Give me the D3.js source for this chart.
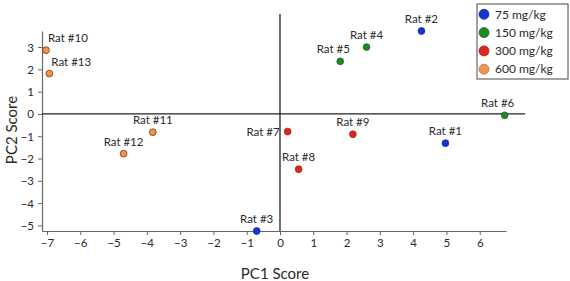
<!DOCTYPE html>
<html>
<head>
<meta charset="utf-8">
<script src="https://cdn.jsdelivr.net/npm/d3@7"></script>
<style>
    body { margin: 0; background: #fff; }
    svg { font-family: Lato, "Open Sans", sans-serif; }
</style>
</head>
<body>
<div id="container"></div>
<script>
const rats = ['Rat #1', 'Rat #2', 'Rat #3', 'Rat #4', 'Rat #5', 'Rat #6', 'Rat #7',
    'Rat #8', 'Rat #9', 'Rat #10', 'Rat #11', 'Rat #12', 'Rat #13'];
const pc1 = [4.97, 4.25, -0.7, 2.6, 1.81, 6.75, 0.23, 0.56, 2.19, -7.03, -3.82, -4.7, -6.93];
const pc2 = [-1.31, 3.72, -5.25, 3.0, 2.36, -0.06, -0.79, -2.48, -0.91, 2.86, -0.82, -1.78, 1.81];
const ratDose = ['75 mg/kg', '75 mg/kg', '75 mg/kg', '150 mg/kg', '150 mg/kg', '150 mg/kg',
    '300 mg/kg', '300 mg/kg', '300 mg/kg', '600 mg/kg', '600 mg/kg', '600 mg/kg', '600 mg/kg'];
const legendLabels = ['75 mg/kg', '150 mg/kg', '300 mg/kg', '600 mg/kg'];
const legendColors = ['#1434cc', '#1c8a26', '#d82a1a', '#ee9450'];
const xTicks = [-7, -6, -5, -4, -3, -2, -1, 0, 1, 2, 3, 4, 5, 6];
const yTicks = [-5, -4, -3, -2, -1, 0, 1, 2, 3];
// where each label sits relative to its dot
const labelSide = ['above', 'above', 'above', 'above', 'aboveLeft', 'aboveLeft', 'left',
    'above', 'above', 'aboveRight', 'above', 'above', 'aboveRight'];

const svg = d3.select('#container')
    .append('svg')
    .attr('width', 570)
    .attr('height', 281);

const x = d3.scaleLinear().domain([-7.15, 6.79]).range([42, 506]);
const y = d3.scaleLinear().domain([-5.25, 3.72]).range([231, 31]);
const color = d3.scaleOrdinal().domain(legendLabels).range(legendColors);

// axes
const xAxis = svg.append('g')
    .attr('transform', 'translate(0,231)')
    .call(d3.axisBottom(x).tickValues(xTicks).tickSize(4).tickPadding(4).tickSizeOuter(0));
const yAxis = svg.append('g')
    .attr('transform', 'translate(42,0)')
    .call(d3.axisLeft(y).tickValues(yTicks).tickSize(4).tickPadding(4).tickSizeOuter(0));

[xAxis, yAxis].forEach((g) => {
    g.select('.domain').attr('stroke', '#666').attr('stroke-width', 1.2);
    g.selectAll('.tick line').attr('stroke', '#666');
    g.selectAll('.tick text')
        .attr('fill', '#2a2a2a')
        .style('font-size', '11.5px')
        .style('font-family', 'Lato, sans-serif');
});
yAxis.selectAll('.tick text').attr('dy', '0.35em');

// zero lines
svg.append('line')
    .attr('x1', 42).attr('x2', 525)
    .attr('y1', y(0)).attr('y2', y(0))
    .attr('stroke', '#222').attr('stroke-width', 1.3);
svg.append('line')
    .attr('x1', x(0)).attr('x2', x(0))
    .attr('y1', 14).attr('y2', 231)
    .attr('stroke', '#222').attr('stroke-width', 1.3);

const pts = rats.map((r, i) => ({ name: r, x: pc1[i], y: pc2[i], dose: ratDose[i], side: labelSide[i] }));

svg.selectAll('.dot').data(pts)
    .enter()
    .append('circle')
    .attr('class', 'dot')
    .attr('cx', (d) => x(d.x))
    .attr('cy', (d) => y(d.y))
    .attr('r', 3.4)
    .attr('fill', (d) => color(d.dose))
    .attr('stroke', (d) => d.dose === '600 mg/kg' ? '#7a3a10' : d3.color(color(d.dose)).darker(0.6))
    .attr('stroke-width', 0.8);

svg.selectAll('.lbl').data(pts)
    .enter()
    .append('text')
    .attr('class', 'lbl')
    .attr('x', (d) => {
        if (d.side === 'left') return x(d.x) - 8;
        if (d.side === 'aboveLeft') return x(d.x) - 7;
        if (d.side === 'aboveRight') return x(d.x) + 2;
        return x(d.x);
    })
    .attr('y', (d) => d.side === 'left' ? y(d.y) + 4 : y(d.y) - 8)
    .attr('text-anchor', (d) => {
        if (d.side === 'left') return 'end';
        if (d.side === 'aboveRight') return 'start';
        return 'middle';
    })
    .attr('fill', '#2a2a2a')
    .style('font-size', '11.5px')
    .text((d) => d.name);

// axis titles
svg.append('text')
    .attr('x', 275).attr('y', 279)
    .attr('text-anchor', 'middle')
    .attr('fill', '#2a2a2a')
    .style('font-size', '15px')
    .text('PC1 Score');
svg.append('text')
    .attr('transform', 'translate(17,130) rotate(-90)')
    .attr('text-anchor', 'middle')
    .attr('fill', '#2a2a2a')
    .style('font-size', '15px')
    .text('PC2 Score');

// legend
const legend = svg.append('g');
legend.append('rect')
    .attr('x', 477).attr('y', 4)
    .attr('width', 91).attr('height', 75)
    .attr('fill', '#fff')
    .attr('stroke', '#666')
    .attr('stroke-width', 1.2);
const rows = legend.selectAll('.row').data(legendLabels)
    .enter()
    .append('g')
    .attr('class', 'row')
    .attr('transform', (d, i) => 'translate(484,' + (14.3 + i * 18.3) + ')');
rows.append('circle')
    .attr('r', 5)
    .attr('fill', (d) => color(d))
    .attr('stroke', (d) => d3.color(color(d)).darker(0.6))
    .attr('stroke-width', 0.8);
rows.append('text')
    .attr('x', 11)
    .attr('dy', '0.35em')
    .attr('fill', '#2a2a2a')
    .style('font-size', '12px')
    .text((d) => d);
</script>
</body>
</html>
